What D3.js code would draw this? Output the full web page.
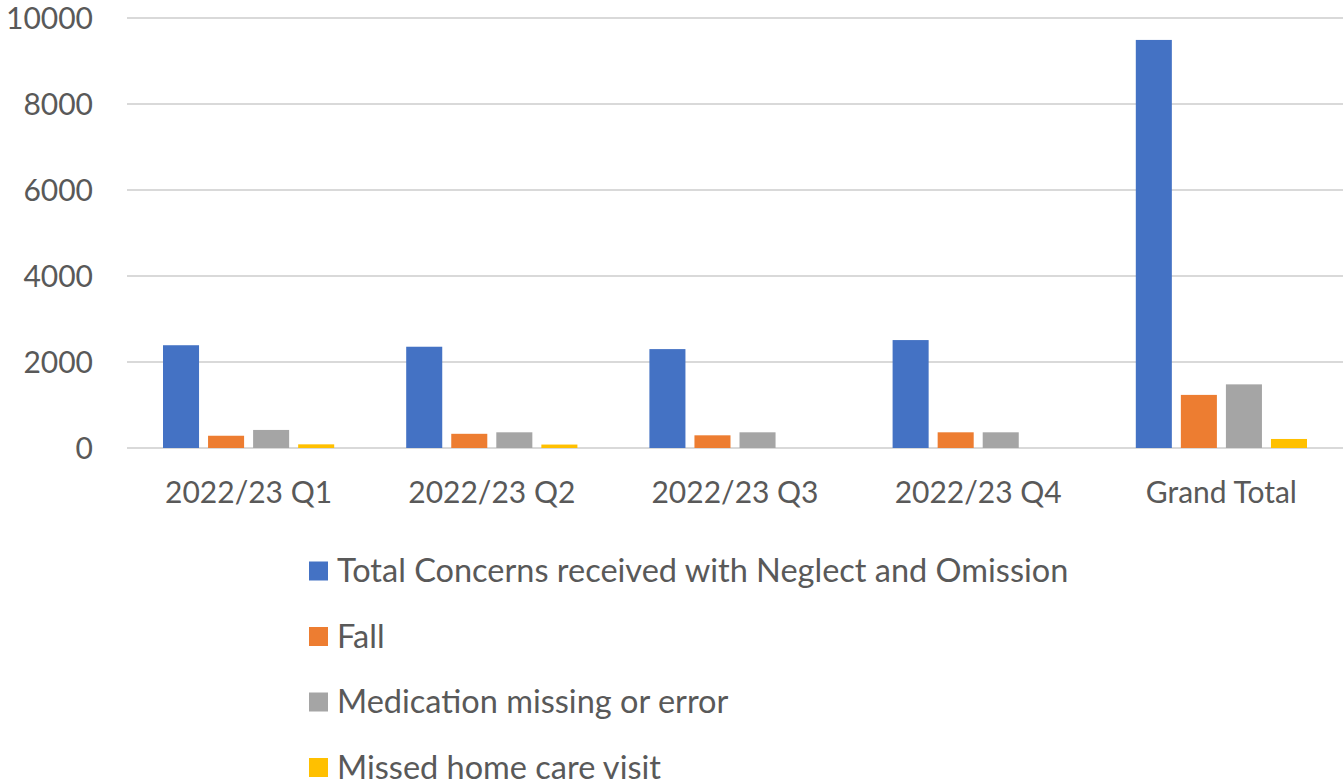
<!DOCTYPE html>
<html>
<head>
<meta charset="utf-8">
<script src="https://cdn.jsdelivr.net/npm/d3@7"></script>
<style>
  html, body { margin: 0; padding: 0; background: #fff; }
  svg text { font-family: Lato, 'Open Sans', sans-serif; fill: #595959; }
</style>
</head>
<body>
<div class="container-concerns"></div>
<script>
const categories = ['2022/23 Q1', '2022/23 Q2', '2022/23 Q3', '2022/23 Q4', 'Grand Total'];
const seriesNames = [
  'Total Concerns received with Neglect and Omission',
  'Fall',
  'Medication missing or error',
  'Missed home care visit'
];
const totalConcerns = [2390, 2355, 2300, 2510, 9490];
const fall = [285, 330, 295, 365, 1235];
const medication = [420, 365, 365, 365, 1480];
const missedVisit = [85, 80, 0, 0, 210];
const yTicks = [0, 2000, 4000, 6000, 8000, 10000];
const colors = ['#4472C4', '#ED7D31', '#A5A5A5', '#FFC000'];

const width = 1343;
const height = 784;
const margin = { top: 18, right: 0, bottom: 336, left: 127 };

const values = [totalConcerns, fall, medication, missedVisit];

const svg = d3.select('.container-concerns')
  .append('svg')
  .attr('width', width)
  .attr('height', height);

const scaleX = d3.scaleBand()
  .domain(categories)
  .range([margin.left, width - margin.right]);

const scaleSeries = d3.scaleBand()
  .domain(d3.range(seriesNames.length))
  .range([36, scaleX.bandwidth() - 36])
  .paddingInner(0.2);

const scaleY = d3.scaleLinear()
  .domain([0, 10000])
  .range([height - margin.bottom, margin.top]);

// gridlines
svg.append('g')
  .selectAll('line')
  .data(yTicks)
  .enter()
  .append('line')
  .attr('x1', margin.left)
  .attr('x2', width - margin.right)
  .attr('y1', d => scaleY(d))
  .attr('y2', d => scaleY(d))
  .attr('stroke', '#D9D9D9')
  .attr('stroke-width', 2);

// y labels
svg.append('g')
  .selectAll('text')
  .data(yTicks)
  .enter()
  .append('text')
  .attr('x', 93)
  .attr('y', d => scaleY(d))
  .attr('dy', '0.35em')
  .attr('text-anchor', 'end')
  .attr('font-size', 30)
  .text(d => d);

// bars
const groups = svg.append('g')
  .selectAll('g')
  .data(categories)
  .enter()
  .append('g')
  .attr('transform', d => `translate(${scaleX(d)},0)`);

groups.selectAll('rect')
  .data((d, i) => values.map((s, j) => ({ series: j, value: s[i] })))
  .enter()
  .append('rect')
  .attr('x', d => scaleSeries(d.series))
  .attr('width', scaleSeries.bandwidth())
  .attr('y', d => scaleY(d.value))
  .attr('height', d => scaleY(0) - scaleY(d.value))
  .attr('fill', d => colors[d.series]);

// x labels
svg.append('g')
  .selectAll('text')
  .data(categories)
  .enter()
  .append('text')
  .attr('x', d => scaleX(d) + scaleX.bandwidth() / 2)
  .attr('y', 503)
  .attr('text-anchor', 'middle')
  .attr('font-size', 30)
  .text(d => d);

// legend
const legend = svg.append('g')
  .attr('transform', 'translate(309, 0)');

const legendItems = legend.selectAll('g')
  .data(seriesNames)
  .enter()
  .append('g')
  .attr('transform', (d, i) => `translate(0, ${571 + i * 65.5})`);

legendItems.append('rect')
  .attr('x', 0)
  .attr('y', -9.5)
  .attr('width', 19)
  .attr('height', 19)
  .attr('fill', (d, i) => colors[i]);

legendItems.append('text')
  .attr('x', 28)
  .attr('y', 0)
  .attr('dy', '0.35em')
  .attr('font-size', 32.5)
  .text(d => d);
</script>
</body>
</html>
